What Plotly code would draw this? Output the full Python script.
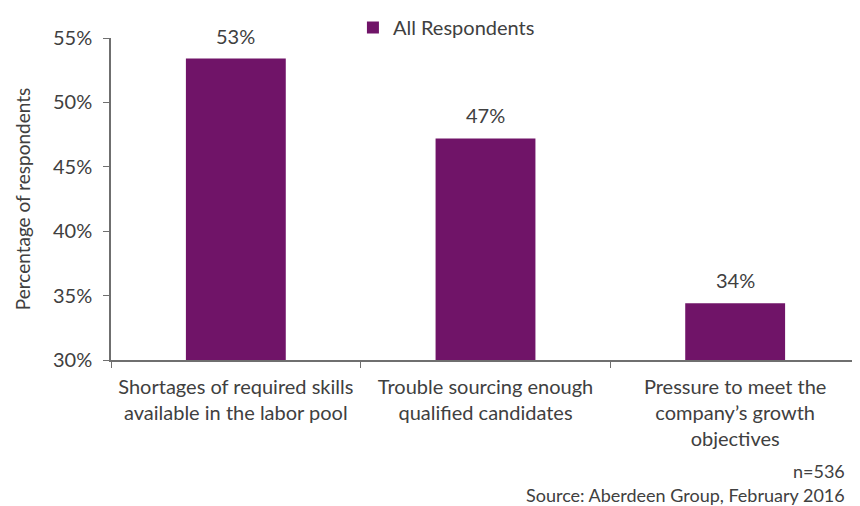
import plotly.graph_objects as go

categories = [
    "Shortages of required skills<br>available in the labor pool",
    "Trouble sourcing enough<br>qualified candidates",
    "Pressure to meet the<br>company\u2019s growth<br>objectives",
]
values = [53.4, 47.2, 34.4]
value_labels = ["53%", "47%", "34%"]
y_ticks = [30, 35, 40, 45, 50, 55]
y_tick_labels = ["30%", "35%", "40%", "45%", "50%", "55%"]
series_name = "All Respondents"

FONT = "Lato"
GRAY = "#404040"
AXIS = "#6f6f6f"
PURPLE = "#701468"
FS = 20

fig = go.Figure()
fig.add_trace(go.Bar(
    x=categories, y=values, name=series_name,
    marker=dict(color=PURPLE, line=dict(width=0)),
    width=0.4,
    showlegend=True,
))
for c, v, t in zip(categories, values, value_labels):
    fig.add_annotation(x=c, y=v, text=t, xref="x", yref="y", showarrow=False,
                       yanchor="bottom", yshift=9,
                       font=dict(family=FONT, size=FS, color=GRAY))

# the page body has an 8px margin, so the figure is drawn 8px smaller and offset
fig.update_layout(
    width=852, height=498,
    margin=dict(l=103, r=0, t=25, b=146),
    paper_bgcolor="white", plot_bgcolor="white",
    font=dict(family=FONT, color=GRAY, size=FS),
    showlegend=True,
    legend=dict(orientation="h", x=0.323, xanchor="left", y=1.034, yanchor="middle",
                font=dict(family=FONT, size=FS, color=GRAY),
                itemwidth=30, bgcolor="rgba(0,0,0,0)"),
    bargap=0.6,
)
fig.update_xaxes(
    showline=True, linecolor=AXIS, linewidth=1.5,
    ticks="outside", tickson="boundaries", ticklen=6, tickcolor=AXIS,
    tickfont=dict(family=FONT, size=FS, color=GRAY), ticklabelstandoff=8,
    showgrid=False, zeroline=False, automargin=False,
)
fig.update_yaxes(
    range=[30, 55], tickvals=y_ticks, ticktext=y_tick_labels,
    showline=True, linecolor=AXIS, linewidth=1.5,
    ticks="outside", ticklen=6, tickcolor=AXIS,
    tickfont=dict(family=FONT, size=FS, color=GRAY), ticklabelstandoff=7,
    showgrid=False, zeroline=False, automargin=False,
    title=dict(text="Percentage of respondents", font=dict(family=FONT, size=19, color=GRAY), standoff=17),
)
fig.add_annotation(text="n=536", xref="paper", yref="paper", x=0.9826, y=-0.3456,
                   xanchor="right", yanchor="middle", showarrow=False,
                   font=dict(family=FONT, size=18, color=GRAY))
fig.add_annotation(text="Source: Aberdeen Group, February 2016", xref="paper", yref="paper",
                   x=0.9826, y=-0.419, xanchor="right", yanchor="middle", showarrow=False,
                   font=dict(family=FONT, size=18, color=GRAY))

fig.write_html("out.html")
